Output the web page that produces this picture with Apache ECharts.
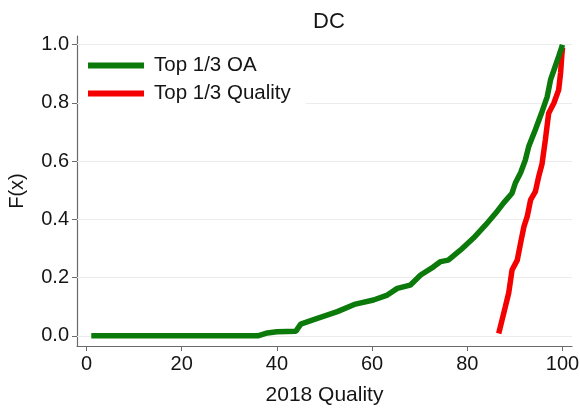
<!DOCTYPE html>
<html>
<head>
<meta charset="utf-8">
<script src="https://cdn.jsdelivr.net/npm/echarts@6/dist/echarts.min.js"></script>
<style>
  html, body { margin: 0; padding: 0; background: #fff; }
  #main { width: 580px; height: 410px; }
</style>
</head>
<body>
<div id="main"></div>
<script>
// tick values
const xTicks = [0, 20, 40, 60, 80, 100];
const yTicks = [0, 0.2, 0.4, 0.6, 0.8, 1.0];

// Top 1/3 OA (green)
const oaX = [1, 36, 38, 40, 44, 45, 48.5, 52.7, 56.5, 60.3, 63.2, 65.3, 68, 70.2, 72.9, 74.4, 76, 78.6, 81.3, 83.8, 85.9, 87.6, 89.4, 90.1, 91.2, 92.2, 92.9, 94.3, 95.7, 96.8, 97.5, 98.1, 99.2, 99.9, 100];
const oaF = [0, 0, 0.01, 0.014, 0.016, 0.04, 0.06, 0.083, 0.109, 0.123, 0.14, 0.163, 0.174, 0.209, 0.237, 0.255, 0.26, 0.295, 0.336, 0.38, 0.42, 0.456, 0.49, 0.525, 0.56, 0.604, 0.65, 0.708, 0.77, 0.822, 0.88, 0.908, 0.96, 0.994, 1.0];

// Top 1/3 Quality (red)
const qX = [86.6, 87.3, 88.0, 88.7, 89.4, 90.5, 91.2, 91.9, 92.6, 93.3, 94.3, 95.0, 95.7, 96.4, 97.1, 98.2, 99.2, 99.6, 99.9, 100];
const qF = [0.008, 0.054, 0.1, 0.147, 0.226, 0.26, 0.319, 0.375, 0.41, 0.467, 0.495, 0.547, 0.59, 0.673, 0.765, 0.8, 0.845, 0.903, 0.972, 0.99];

const font = "'Liberation Sans', Arial, sans-serif";
const ink = "#151515";

const option = {
  animation: false,
  title: {
    text: "DC",
    left: 324,
    top: 6,
    textAlign: "center",
    textStyle: { fontFamily: font, fontSize: 22, fontWeight: "normal", color: ink }
  },
  legend: {
    orient: "vertical",
    left: 80,
    top: 49,
    padding: [6, 15, 6, 8],
    backgroundColor: "#fff",
    icon: "rect",
    itemWidth: 56,
    itemHeight: 6,
    itemGap: 7,
    textStyle: { fontFamily: font, fontSize: 20.5, color: ink, lineHeight: 20, padding: [0, 0, 0, 5] },
    data: ["Top 1/3 OA", "Top 1/3 Quality"]
  },
  grid: {
    left: 77,
    right: 8,
    top: 36,
    bottom: 64,
    containLabel: false,
    outerBoundsMode: "none"
  },
  xAxis: {
    type: "value",
    min: -2,
    max: 102,
    name: "2018 Quality",
    nameLocation: "middle",
    nameGap: 39,
    nameTextStyle: { fontFamily: font, fontSize: 21, color: ink },
    axisLine: { onZero: false, lineStyle: { color: "#6a6a6a", width: 1.2 } },
    axisTick: { customValues: xTicks, length: 5, lineStyle: { color: "#6a6a6a" } },
    axisLabel: { customValues: xTicks, fontFamily: font, fontSize: 20, color: ink, margin: 8 },
    splitLine: { show: false }
  },
  yAxis: {
    type: "value",
    min: -0.035,
    max: 1.03,
    name: "F(x)",
    nameLocation: "middle",
    nameGap: 50,
    nameTextStyle: { fontFamily: font, fontSize: 20, color: ink },
    axisLine: { show: true, onZero: false, lineStyle: { color: "#6a6a6a", width: 1.2 } },
    axisTick: { show: true, customValues: yTicks, length: 5, lineStyle: { color: "#6a6a6a" } },
    axisLabel: {
      customValues: yTicks,
      fontFamily: font,
      fontSize: 20,
      color: ink,
      margin: 8,
      formatter: v => v.toFixed(1)
    },
    splitLine: { show: false }
  },
  series: [
    {
      name: "Top 1/3 OA",
      type: "line",
      data: oaX.map((x, i) => [x, oaF[i]]),
      showSymbol: false,
      color: "#0b7a0b",
      lineStyle: { width: 5.5, color: "#0b7a0b" },
      z: 3,
      markLine: {
        silent: true,
        symbol: "none",
        label: { show: false },
        lineStyle: { color: "#ececec", width: 1, type: "solid" },
        data: yTicks.map(v => ({ yAxis: v })),
        z: 1
      }
    },
    {
      name: "Top 1/3 Quality",
      type: "line",
      data: qX.map((x, i) => [x, qF[i]]),
      showSymbol: false,
      color: "#f40000",
      lineStyle: { width: 5.5, color: "#f40000" },
      z: 2
    }
  ]
};

const chart = echarts.init(document.getElementById("main"));
chart.setOption(option);
</script>
</body>
</html>
